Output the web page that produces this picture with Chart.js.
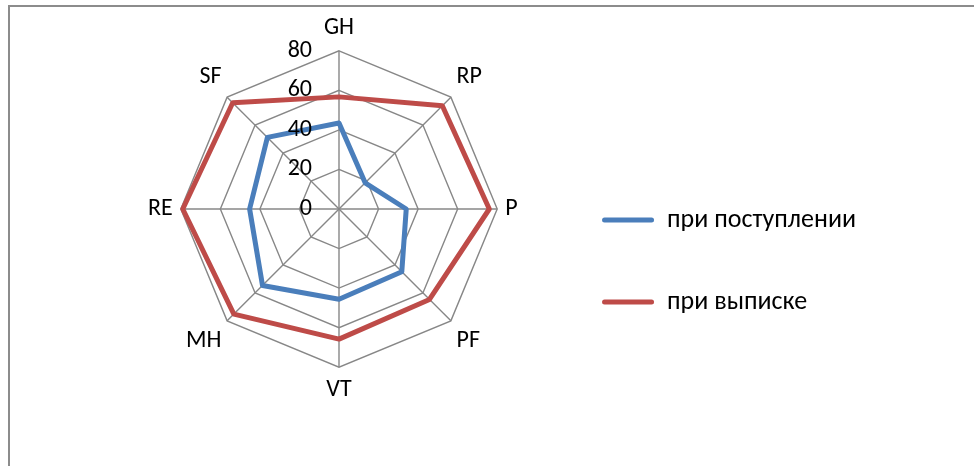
<!DOCTYPE html>
<html>
<head>
<meta charset="utf-8">
<script src="https://cdn.jsdelivr.net/npm/chart.js@4.4.1/dist/chart.umd.min.js"></script>
<style>
  html, body { margin: 0; padding: 0; background: #ffffff; overflow: hidden; }
  #wrap { position: relative; width: 974px; height: 466px; }
  #frame {
    position: absolute; left: 8px; top: 5px; width: 1000px; height: 500px;
    border-left: 2px solid #8c8c8c; border-top: 2px solid #8c8c8c;
    pointer-events: none;
  }
  canvas { position: absolute; left: 0; top: 0; }
</style>
</head>
<body>
<div id="wrap">
  <canvas id="chart" width="974" height="466"></canvas>
  <div id="frame"></div>
</div>
<script>
// SF-36 scale scores, on admission and at discharge
const categories = ['GH', 'RP', 'P', 'PF', 'VT', 'MH', 'RE', 'SF'];
const admissionValues = [43.5, 18.7, 34, 44.9, 45.6, 54.7, 45.2, 51.2];
const dischargeValues = [56.7, 73.9, 76, 64.7, 65.8, 75.2, 79, 76];
const tickLabels = [0, 20, 40, 60, 80];
const seriesNames = ['при поступлении', 'при выписке'];

const FONT = "Carlito, Lato, 'Open Sans', sans-serif";
const FONT_SIZE = 24;
const LEGEND_SIZE = 26;

// Radial tick numbers, drawn to the left of the vertical spoke and above the series lines
const tickNumbers = {
  id: 'tickNumbers',
  afterDatasetsDraw(chart) {
    const s = chart.scales.r;
    const ctx = chart.ctx;
    ctx.save();
    ctx.font = FONT_SIZE + 'px ' + FONT;
    ctx.fillStyle = '#000000';
    ctx.textAlign = 'right';
    ctx.textBaseline = 'middle';
    tickLabels.forEach(v => {
      const y = s.yCenter - s.getDistanceFromCenterForValue(v);
      ctx.fillText(String(v), s.xCenter - 27, y);
    });
    ctx.restore();
  }
};

new Chart(document.getElementById('chart'), {
  type: 'radar',
  data: {
    labels: categories,
    datasets: [
      {
        label: seriesNames[0],
        data: admissionValues,
        borderColor: '#4a7ebb',
        backgroundColor: '#4a7ebb',
        borderWidth: 5,
        borderJoinStyle: 'round',
        pointRadius: 0,
        pointHoverRadius: 0,
        fill: false
      },
      {
        label: seriesNames[1],
        data: dischargeValues,
        borderColor: '#be4b48',
        backgroundColor: '#be4b48',
        borderWidth: 5,
        borderJoinStyle: 'round',
        pointRadius: 0,
        pointHoverRadius: 0,
        fill: false
      }
    ]
  },
  options: {
    responsive: false,
    animation: false,
    events: [],
    layout: { padding: { left: 120, right: 108, top: 15, bottom: 61 } },
    scales: {
      r: {
        min: 0,
        max: 80,
        ticks: { display: false, stepSize: 20 },
        grid: { color: '#878787', lineWidth: 1.4 },
        angleLines: { color: '#878787', lineWidth: 1.4 },
        pointLabels: {
          padding: 8,
          color: '#000000',
          font: { family: FONT, size: FONT_SIZE }
        }
      }
    },
    plugins: {
      tooltip: { enabled: false },
      legend: {
        position: 'right',
        align: 'start',
        title: { display: true, text: '', font: { size: 10 }, padding: { top: 124, bottom: 0 } },
        labels: {
          padding: 56,
          boxWidth: 52,
          boxHeight: 5,
          useBorderRadius: true,
          borderRadius: 2.5,
          color: '#000000',
          font: { family: FONT, size: LEGEND_SIZE },
          generateLabels(chart) {
            return Chart.defaults.plugins.legend.labels.generateLabels(chart).map(item => {
              item.fillStyle = item.strokeStyle;
              item.lineWidth = 0;
              return item;
            });
          }
        }
      }
    }
  },
  plugins: [tickNumbers]
});
</script>
</body>
</html>
